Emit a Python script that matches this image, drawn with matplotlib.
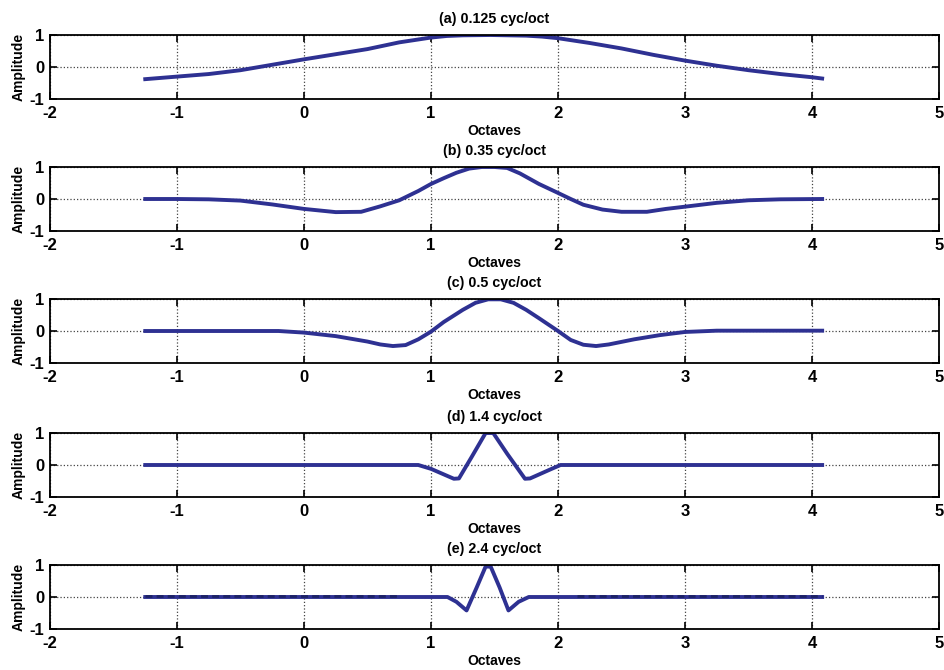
import matplotlib
matplotlib.use('Agg')
import matplotlib.pyplot as plt

plt.rcParams['font.family'] = ['Liberation Sans', 'DejaVu Sans']
plt.rcParams['font.weight'] = 'bold'
plt.rcParams['axes.unicode_minus'] = False

titles = ['(a) 0.125 cyc/oct', '(b) 0.35 cyc/oct', '(c) 0.5 cyc/oct',
          '(d) 1.4 cyc/oct', '(e) 2.4 cyc/oct']

# (a) 0.125 cyc/oct
x_a = [-1.25, -1.0, -0.75, -0.5, -0.25, 0.0, 0.25, 0.5, 0.75, 1.0, 1.125, 1.25, 1.47,
       1.75, 1.875, 2.0, 2.25, 2.5, 2.75, 3.0, 3.25, 3.5, 3.75, 4.0, 4.08]
amp_a = [-0.38, -0.3, -0.22, -0.1, 0.07, 0.24, 0.4, 0.56, 0.77, 0.92, 0.97, 0.99, 1.0,
         0.98, 0.95, 0.9, 0.75, 0.58, 0.38, 0.2, 0.04, -0.1, -0.22, -0.32, -0.36]

# (b) 0.35 cyc/oct
x_b = [-1.25, -1.0, -0.75, -0.5, -0.25, 0.0, 0.25, 0.45, 0.6, 0.75, 0.9, 1.0, 1.1,
       1.2, 1.3, 1.4, 1.5, 1.6, 1.7, 1.85, 2.0, 2.1, 2.2, 2.35, 2.5, 2.7, 2.85, 3.0,
       3.25, 3.5, 3.75, 4.08]
amp_b = [0.0, 0.0, -0.01, -0.05, -0.17, -0.31, -0.41, -0.40, -0.23, -0.04, 0.25, 0.47, 0.65,
         0.82, 0.95, 1.0, 1.0, 0.97, 0.8, 0.47, 0.19, 0.0, -0.18, -0.33, -0.40, -0.40, -0.31, -0.24,
         -0.12, -0.04, -0.01, 0.0]

# (c) 0.5 cyc/oct
x_c = [-1.25, -0.5, -0.2, 0.0, 0.25, 0.5, 0.6, 0.7, 0.8, 0.9, 1.0, 1.1, 1.25, 1.35,
       1.45, 1.55, 1.65, 1.75, 1.85, 2.0, 2.1, 2.2, 2.3, 2.4, 2.6, 2.8, 3.0, 3.25, 4.08]
amp_c = [0.0, 0.0, 0.0, -0.05, -0.16, -0.33, -0.42, -0.47, -0.44, -0.26, -0.02, 0.28, 0.66, 0.88,
         0.99, 0.99, 0.88, 0.66, 0.4, 0.0, -0.28, -0.43, -0.47, -0.42, -0.26, -0.13, -0.03, 0.01, 0.01]

# (d) 1.4 cyc/oct
x_d = [-1.25, 0.9, 1.0, 1.18, 1.22, 1.32, 1.43, 1.49, 1.6, 1.74, 1.78, 1.95, 2.02, 4.08]
amp_d = [0.0, 0.0, -0.12, -0.43, -0.42, 0.25, 1.0, 1.0, 0.35, -0.43, -0.42, -0.12, 0.0, 0.0]

# (e) 2.4 cyc/oct
x_e = [-1.25, 1.13, 1.2, 1.28, 1.36, 1.43, 1.47, 1.54, 1.61, 1.69, 1.77, 4.08]
amp_e = [0.0, 0.0, -0.15, -0.42, 0.3, 0.95, 0.95, 0.3, -0.42, -0.15, 0.0, 0.0]
x_e_ripple = [[-1.25, 0.75], [2.15, 4.08]]
amp_e_ripple = [[0.025, 0.025], [0.025, 0.025]]

xs = [x_a, x_b, x_c, x_d, x_e]
amps = [amp_a, amp_b, amp_c, amp_d, amp_e]

fig = plt.figure(figsize=(9.44, 6.7), dpi=100)
line_col = '#2e3192'
tops = [35, 167, 299, 433, 565]
for i in range(5):
    bottom = 1 - (tops[i] + 64) / 670.0
    ax = fig.add_axes([50 / 944.0, bottom, 889 / 944.0, 64 / 670.0])
    ax.plot(xs[i], amps[i], color=line_col, lw=2.8, solid_joinstyle='round')
    if i == 4:
        for xr, yr in zip(x_e_ripple, amp_e_ripple):
            ax.plot(xr, yr, color='#1c2266', lw=2.0, ls=(0, (2.5, 1.5)))
    ax.set_xlim(-2, 5)
    ax.set_ylim(-1, 1)
    ax.set_xticks(range(-2, 6))
    ax.set_yticks([-1, 0, 1])
    ax.tick_params(direction='in', top=True, right=True, length=5, width=1.2,
                   labelsize=12)
    ax.tick_params(axis='x', pad=5)
    ax.tick_params(axis='y', pad=4)
    for lab in ax.get_xticklabels() + ax.get_yticklabels():
        lab.set_fontweight('bold')
    ax.grid(True, ls=':', color='#444444', lw=0.9)
    for sp in ax.spines.values():
        sp.set_linewidth(1.3)
    ax.set_title(titles[i], fontsize=10.3, fontweight='bold', pad=9)
    ax.set_xlabel('Octaves', fontsize=10, fontweight='bold', labelpad=2)
    ax.set_ylabel('Amplitude', fontsize=10, fontweight='bold', labelpad=3)

fig.savefig('out.png', dpi=100)
